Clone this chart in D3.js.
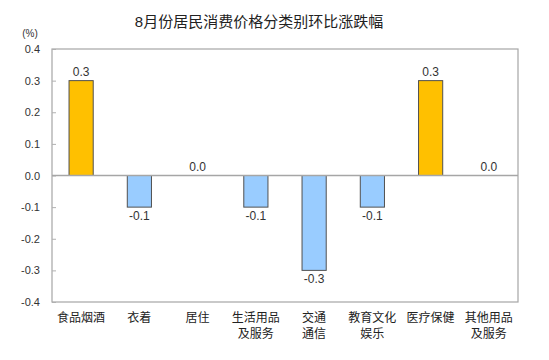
<!DOCTYPE html>
<html><head><meta charset="utf-8">
<script src="https://cdn.jsdelivr.net/npm/d3@7"></script>
<style>body{margin:0;background:#fff}svg{display:block}</style>
</head><body><svg id="c" width="549" height="360"></svg>
<script>
const title = "8月份居民消费价格分类别环比涨跌幅";
const unitLabel = "(%)";
const categories = [["食品烟酒"],["衣着"],["居住"],["生活用品","及服务"],["交通","通信"],["教育文化","娱乐"],["医疗保健"],["其他用品","及服务"]];
const values = [0.3, -0.1, 0.0, -0.1, -0.3, -0.1, 0.3, 0.0];
const yTicks = [-0.4,-0.3,-0.2,-0.1,0.0,0.1,0.2,0.3,0.4];

const svg = d3.select("#c");
const font = "Arial, 'Liberation Sans', 'Noto Sans CJK SC', sans-serif";
const m = {l:52, r:518, t:49, b:302};
const x = d3.scaleBand().domain(d3.range(categories.length)).range([m.l, m.r]).paddingInner(0.585).paddingOuter(0.2925);
const y = d3.scaleLinear().domain([-0.4,0.4]).range([m.b, m.t]);

svg.append("text").attr("x",259).attr("y",27).attr("text-anchor","middle")
  .attr("font-family",font).attr("font-size",15).attr("fill","#222").text(title);
svg.append("text").attr("x",30).attr("y",37).attr("text-anchor","middle")
  .attr("font-family",font).attr("font-size",10).attr("fill","#333").text(unitLabel);

// frame
svg.append("rect").attr("x",m.l).attr("y",m.t).attr("width",m.r-m.l).attr("height",m.b-m.t)
  .attr("fill","none").attr("stroke","#a6a6a6").attr("stroke-width",1.2);

const yAxis = d3.axisLeft(y).tickValues(yTicks).tickSize(-4).tickPadding(12).tickFormat(d3.format(".1f"));
const ga = svg.append("g").attr("transform",`translate(${m.l},0)`).call(yAxis);
ga.select(".domain").remove();
ga.selectAll(".tick line").attr("stroke","#b0b0b0");
ga.selectAll(".tick text").attr("font-family",font).attr("font-size",11).attr("fill","#333")
  .text(d => d3.format(".1f")(d).replace("−","-"));

// bars
svg.selectAll("rect.bar").data(values).join("rect").attr("class","bar")
  .attr("x",(d,i)=>x(i)).attr("width",x.bandwidth())
  .attr("y",d=>y(Math.max(0,d))).attr("height",d=>Math.abs(y(d)-y(0)))
  .attr("fill",d=>d>0?"#FFC000":"#99CCFF").attr("stroke","#505050").attr("stroke-width",1);

// zero line
svg.append("line").attr("x1",m.l).attr("x2",m.r).attr("y1",y(0)).attr("y2",y(0))
  .attr("stroke","#a6a6a6").attr("stroke-width",1.5);

// value labels
svg.selectAll("text.val").data(values).join("text").attr("class","val")
  .attr("x",(d,i)=>x(i)+x.bandwidth()/2)
  .attr("y",d=> d>=0 ? y(d)-5 : y(d)+13)
  .attr("text-anchor","middle").attr("font-family",font).attr("font-size",12).attr("fill","#333")
  .text(d=>d.toFixed(1));

// category labels
const gl = svg.selectAll("text.cat").data(categories).join("text").attr("class","cat")
  .attr("text-anchor","middle").attr("font-family","'Noto Sans CJK SC', sans-serif").attr("font-size",12).attr("fill","#222");
gl.each(function(d,i){
  d3.select(this).selectAll("tspan").data(d).join("tspan")
    .attr("x",x(i)+x.bandwidth()/2).attr("y",(t,j)=>322+j*16).text(t=>t);
});
</script></body></html>
